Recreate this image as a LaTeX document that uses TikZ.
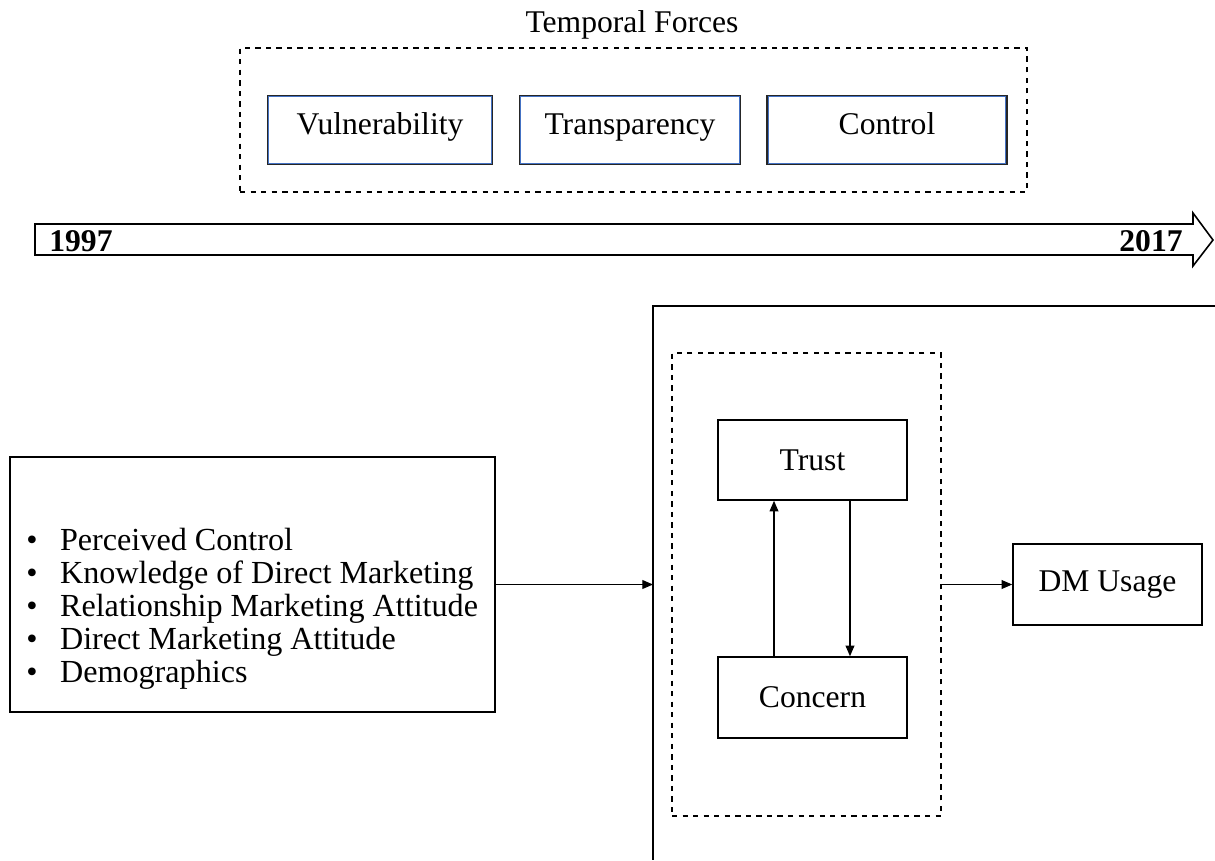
\documentclass[tikz,border=0pt]{standalone}
\usepackage{fontspec}
\setmainfont{Liberation Serif}
\usetikzlibrary{positioning}
\usetikzlibrary{calc}
\usetikzlibrary{arrows.meta}
\definecolor{forceblue}{RGB}{68,114,196}

\begin{document}
\begin{tikzpicture}[x=0.02cm, y=-0.02cm,
    every node/.style={font=\fontsize{18}{18.7}\selectfont},
    box/.style={draw, line width=0.9pt, inner sep=0pt},
    forcebox/.style={box, line width=1.4pt, draw=black!85, minimum height=1.36cm,
        text height=0.4cm, text depth=0.24cm},
    frame/.style={draw, dashed, line width=0.9pt, inner sep=0pt},
    year/.style={font=\fontsize{18}{18.7}\selectfont\bfseries, inner sep=0pt},
    arr/.style={-{Triangle[length=6pt,width=5pt]}, line width=0.6pt}]
    \useasboundingbox (0,0) rectangle (1215,860);

    % Temporal forces
    \node (title) at (632,25) {Temporal Forces};
    \node[frame, minimum width=15.74cm, minimum height=2.88cm] (forces) at (633.5,120) {};
    \foreach \n/\px/\w/\t in {vul/380/4.48/Vulnerability, tra/630/4.4/Transparency, con/887/4.78/Control} {
        \node[forcebox, minimum width=\w cm] (\n) at (\px,130) {\t};
        \draw[forceblue, line width=0.8pt] ($(\n.south west)+(2,-2)$) rectangle ($(\n.north east)+(-2,2)$);
    }

    % Timeline
    \draw[line width=0.9pt] (35,224) -- (1193,224) -- (1193,213) -- (1213,240)
        -- (1193,266) -- (1193,255) -- (35,255) -- cycle;
    \node[year, anchor=west] (start) at (49,241) {1997};
    \node[year, anchor=east] (end) at (1183,241) {2017};

    % Outer frame (open to the right and bottom)
    \coordinate (outer) at (653,306);
    \draw[line width=0.9pt] (1215,306) -- (outer) -- (653,860);

    % Factors
    \node[box, minimum width=9.7cm, minimum height=5.1cm] (factors) at (252.5,584.5) {};
    \node[anchor=west, inner sep=0pt, font=\fontsize{18.3}{18.8}\selectfont] (factorlist) at (26,610) {%
        \begin{tabular}{@{}l@{\hspace{0.45cm}}l@{}}
        \textbullet & Perceived Control\\
        \textbullet & Knowledge of Direct Marketing\\
        \textbullet & Relationship Marketing Attitude\\
        \textbullet & Direct Marketing Attitude\\
        \textbullet & Demographics
        \end{tabular}};
    \draw[arr] (factors.east) -- (factors.east -| outer);

    % Trust and concern
    \node[frame, minimum width=5.38cm, minimum height=9.26cm] (inner) at (806.5,584.5) {};
    \node[box, minimum width=3.78cm, minimum height=1.6cm] (trust) at (812.5,460) {Trust};
    \node[box, minimum width=3.78cm, minimum height=1.62cm] (concern) at (812.5,697.5) {Concern};
    \draw[arr] ([xshift=-0.77cm]concern.north) -- ([xshift=-0.77cm]trust.south);
    \draw[arr] ([xshift=0.75cm]trust.south) -- ([xshift=0.75cm]concern.north);

    % Usage
    \node[box, minimum width=3.78cm, minimum height=1.62cm] (usage) at (1107.5,584.5) {DM Usage};
    \draw[arr] (inner.east) -- (usage.west);
\end{tikzpicture}
\end{document}
